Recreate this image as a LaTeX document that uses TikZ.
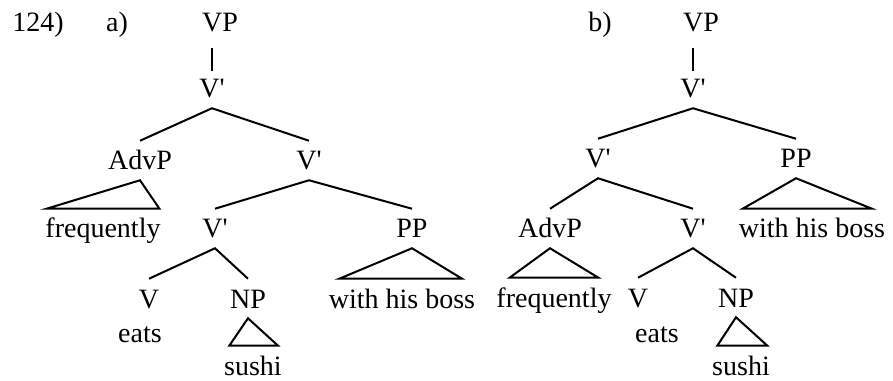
\documentclass[tikz,border=0pt]{standalone}
\usepackage{fontspec}
\setmainfont{Liberation Serif}
\usetikzlibrary{positioning}
\newcommand{\vbar}{V\textquotesingle}

\begin{document}
\begin{tikzpicture}[x=0.75pt,y=-0.75pt,
  cat/.style={font=\fontsize{21}{24}\selectfont,inner sep=0pt,text height=21.75pt,text depth=7.5pt,anchor=base},
  br/.style={line width=1.5pt}]
  \useasboundingbox (0,0) rectangle (893,381);
  \node[cat,anchor=base west] (num) at (12,32) {124)};
  % Tree a
  \node[cat] (aLab) at (117,32) {a)};
  \node[cat] (aVP) at (220,32) {VP};
  \node[cat] (aV1) at (212,98) {\vbar};
  \node[cat] (aAdvP) at (140,170) {AdvP};
  \node[cat] (aV2) at (309,170) {\vbar};
  \node[cat] (afreq) at (103,238) {frequently};
  \node[cat] (aV3) at (215,238) {\vbar};
  \node[cat] (aPP) at (412,238) {PP};
  \node[cat] (aV) at (149,308) {V};
  \node[cat] (aNP) at (248,308) {NP};
  \node[cat] (aboss) at (402,308) {with his boss};
  \node[cat] (aeats) at (140,342) {eats};
  \node[cat] (asushi) at (253,375) {sushi};
  \draw[br] ([yshift=-4pt]aVP.south -| aV1.north) -- ([yshift=-2pt]aV1.north);
  \draw[br] (aAdvP.north) -- (aV1.south) -- (aV2.north);
  \draw[br] (aV3.north) -- (aV2.south) -- (aPP.north);
  \draw[br] (aV.north) -- (aV3.south) -- (aNP.north);
  \draw[br] (aAdvP.south) -- ([xshift=1pt]afreq.north west) -- ([xshift=-1pt]afreq.north east) -- cycle;
  \draw[br] (aPP.south) -- ([xshift=8pt]aboss.north west) -- ([xshift=-10pt]aboss.north east) -- cycle;
  \draw[br] (aNP.south) -- ([xshift=4pt]asushi.north west) -- ([xshift=-3pt]asushi.north east) -- cycle;
  % Tree b
  \node[cat] (bLab) at (600,32) {b)};
  \node[cat] (bVP) at (701,32) {VP};
  \node[cat] (bV1) at (693,98) {\vbar};
  \node[cat] (bV2) at (598,168) {\vbar};
  \node[cat] (bPP) at (796,168) {PP};
  \node[cat] (bAdvP) at (550,238) {AdvP};
  \node[cat] (bV3) at (693,238) {\vbar};
  \node[cat] (bboss) at (812,238) {with his boss};
  \node[cat] (bfreq) at (554,307) {frequently};
  \node[cat] (bV) at (638,307) {V};
  \node[cat] (bNP) at (736,307) {NP};
  \node[cat] (beats) at (657,342) {eats};
  \node[cat] (bsushi) at (741,375) {sushi};
  \draw[br] ([yshift=-4pt]bVP.south -| bV1.north) -- ([yshift=-2pt]bV1.north);
  \draw[br] (bV2.north) -- (bV1.south) -- (bPP.north);
  \draw[br] (bAdvP.north) -- (bV2.south) -- (bV3.north);
  \draw[br] (bV.north) -- (bV3.south) -- (bNP.north);
  \draw[br] (bAdvP.south) -- ([xshift=10pt]bfreq.north west) -- ([xshift=-10pt]bfreq.north east) -- cycle;
  \draw[br] (bPP.south) -- ([xshift=3pt]bboss.north west) -- ([xshift=-10pt]bboss.north east) -- cycle;
  \draw[br] (bNP.south) -- ([xshift=4pt]bsushi.north west) -- ([xshift=-2pt]bsushi.north east) -- cycle;
\end{tikzpicture}
\end{document}
